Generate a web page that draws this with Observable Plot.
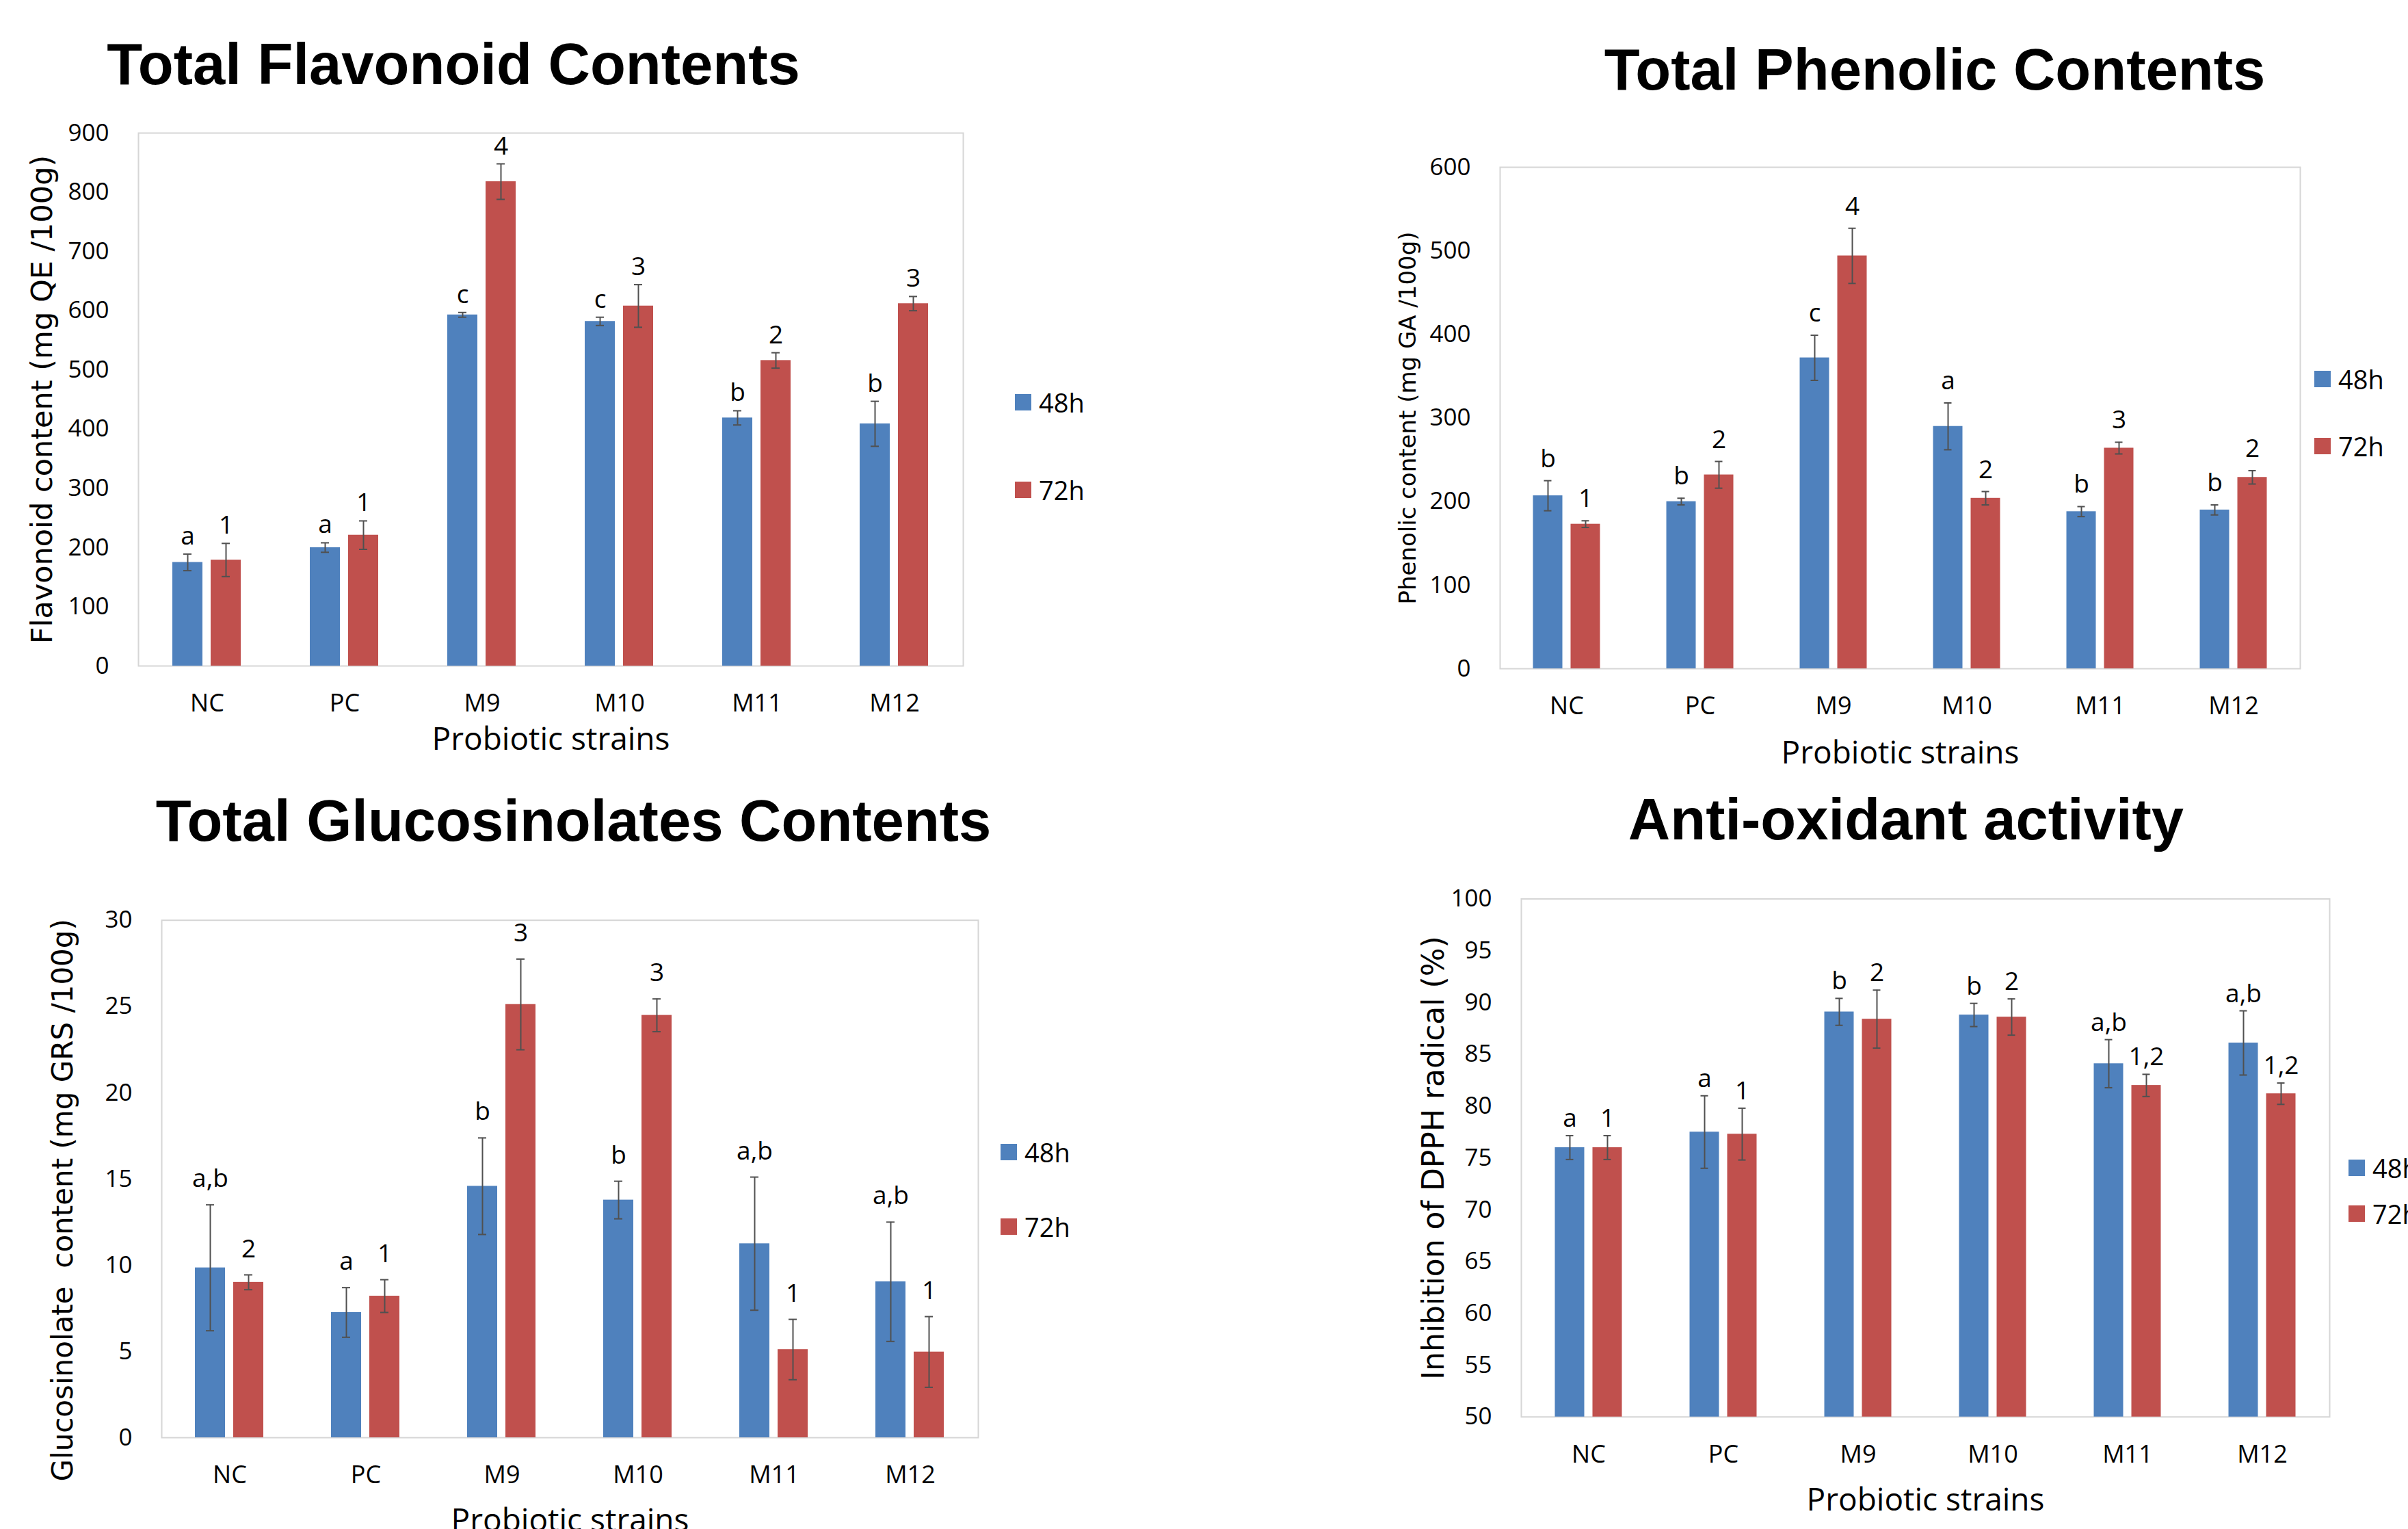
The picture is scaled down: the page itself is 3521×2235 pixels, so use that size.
<!DOCTYPE html>
<html><head><meta charset="utf-8">
<script src="https://cdn.jsdelivr.net/npm/d3@7"></script>
<script src="https://cdn.jsdelivr.net/npm/@observablehq/plot@0.6"></script>
<style>
html,body{margin:0;padding:0;background:#fff;}
#root{position:relative;width:3521px;height:2235px;overflow:hidden;background:#fff;}
.panel{position:absolute;}
.panel svg{max-width:none !important;display:block;overflow:visible;}
.title{position:absolute;width:2000px;text-align:center;font-family:"Liberation Sans",Arial,sans-serif;font-weight:bold;font-size:85px;line-height:85px;color:#000;white-space:nowrap;}
.item{position:absolute;height:60px;display:flex;align-items:center;white-space:nowrap;font-family:"Open Sans",sans-serif;font-size:38px;color:#000;}
.sw{width:24px;height:24px;margin-right:11px;flex:none;}
svg text{white-space:pre;}
</style></head><body><div id="root"></div>
<script>
const strains = ["NC","PC","M9","M10","M11","M12"];
const series = ["48h","72h"];
const seriesColors = ["#4F81BD","#C0504D"];
const xTitle = "Probiotic strains";

// Total Flavonoid Contents
const flavTitle = "Total Flavonoid Contents";
const flavYLabel = "Flavonoid content (mg QE /100g)";
const flav48 = [175,200,593,582,419,409];
const flav48Err = [14,8,4,7,12,38];
const flav72 = [179,221,818,608,516,612];
const flav72Err = [28,24,30,36,13,12];
const flav48Sig = ["a","a","c","c","b","b"];
const flav72Sig = ["1","1","4","3","2","3"];
const flavTicks = [0,100,200,300,400,500,600,700,800,900];

// Total Phenolic Contents
const phenTitle = "Total Phenolic Contents";
const phenYLabel = "Phenolic content (mg GA /100g)";
const phen48 = [207,200,372,290,188,190];
const phen48Err = [18,4,27,28,6,6];
const phen72 = [173,232,494,204,264,229];
const phen72Err = [4,16,33,8,7,8];
const phen48Sig = ["b","b","c","a","b","b"];
const phen72Sig = ["1","2","4","2","3","2"];
const phenTicks = [0,100,200,300,400,500,600];

// Total Glucosinolates Contents
const glucTitle = "Total Glucosinolates Contents";
const glucYLabel = "Glucosinolate  content (mg GRS /100g)";
const gluc48 = [9.85,7.26,14.58,13.78,11.25,9.04];
const gluc48Err = [3.65,1.44,2.8,1.09,3.86,3.46];
const gluc72 = [9.01,8.21,25.12,24.49,5.11,4.97];
const gluc72Err = [0.43,0.95,2.63,0.95,1.75,2.05];
const gluc48Sig = ["a,b","a","b","b","a,b","a,b"];
const gluc72Sig = ["2","1","3","3","1","1"];
const glucTicks = [0,5,10,15,20,25,30];

// Anti-oxidant activity
const antiTitle = "Anti-oxidant activity";
const antiYLabel = "Inhibition of DPPH radical (%)";
const anti48 = [76.0,77.5,89.1,88.8,84.1,86.1];
const anti48Err = [1.15,3.5,1.3,1.12,2.32,3.1];
const anti72 = [76.0,77.3,88.4,88.6,82.0,81.2];
const anti72Err = [1.15,2.5,2.8,1.75,1.07,1.03];
const anti48Sig = ["a","a","b","b","a,b","a,b"];
const anti72Sig = ["1","1","2","2","1,2","1,2"];
const antiTicks = [50,55,60,65,70,75,80,85,90,95,100];

const root = document.getElementById("root");

function makePanel(p) {
  const rows = [];
  strains.forEach((s, i) => {
    rows.push({strain: s, series: series[0], value: p.v48[i], err: p.e48[i], sig: p.s48[i]});
    rows.push({strain: s, series: series[1], value: p.v72[i], err: p.e72[i], sig: p.s72[i]});
  });
  const base = p.ticks[0];
  const errColor = "#505050";
  const chart = Plot.plot({
    width: p.width, height: p.height,
    marginLeft: p.ml, marginRight: p.mr, marginTop: p.mt, marginBottom: p.mb,
    style: {fontFamily: "'Open Sans', sans-serif", background: "white", overflow: "visible", color: "#000"},
    fx: {domain: strains, padding: 0, label: null},
    x: {domain: series, paddingInner: 0.21, paddingOuter: 0.87, axis: null},
    y: {domain: [p.ticks[0], p.ticks[p.ticks.length - 1]], axis: null},
    color: {domain: series, range: seriesColors},
    marks: [
      Plot.frame({facet: "super", stroke: "#d6d6d6", strokeWidth: 2}),
      Plot.barY(rows, {fx: "strain", x: "series", y1: base, y2: "value", fill: "series"}),
      Plot.ruleX(rows, {fx: "strain", x: "series", y1: d => d.value - d.err, y2: d => d.value + d.err, stroke: errColor, strokeWidth: 2}),
      Plot.tickY(rows, {fx: "strain", x: "series", y: d => d.value + d.err, stroke: errColor, strokeWidth: 2, insetLeft: 16, insetRight: 16}),
      Plot.tickY(rows, {fx: "strain", x: "series", y: d => d.value - d.err, stroke: errColor, strokeWidth: 2, insetLeft: 16, insetRight: 16}),
      Plot.text(rows, {fx: "strain", x: "series", y: d => d.value + d.err, text: "sig", lineAnchor: "bottom", dy: p.sigDy, fontSize: 37, fill: "#000"}),
      Plot.axisY({ticks: p.ticks, tickSize: 0, tickPadding: 43, fontSize: 35, label: null, tickFormat: d => String(d), fill: "#000"}),
      Plot.axisFx({anchor: "bottom", tickSize: 0, tickPadding: 41, fontSize: 36, label: null, fill: "#000"}),
      Plot.text([p.yLabel], {facet: "super", text: d => d, frameAnchor: "left", textAnchor: "middle", rotate: -90, dx: p.yDx, dy: p.yDy, lineAnchor: "middle", fontSize: p.ySize, fontFamily: "'DejaVu Sans', sans-serif", fill: "#000"}),
      Plot.text([xTitle], {facet: "super", text: d => d, frameAnchor: "bottom", textAnchor: "middle", dy: p.xDy, lineAnchor: "bottom", fontSize: 46, fill: "#000"})
    ]
  });
  const wrap = document.createElement("div");
  wrap.className = "panel";
  wrap.style.left = p.left + "px";
  wrap.style.top = p.top + "px";
  wrap.style.width = p.width + "px";
  wrap.style.height = p.height + "px";
  wrap.appendChild(chart);
  root.appendChild(wrap);

  const t = document.createElement("div");
  t.className = "title";
  t.textContent = p.title;
  t.style.left = (p.titleCx - 1000) + "px";
  t.style.top = (p.titleBase - 72) + "px";
  root.appendChild(t);

  series.forEach((s, i) => {
    const it = document.createElement("div");
    it.className = "item";
    it.style.left = p.legX + "px";
    it.style.top = (p.legY[i] - 30) + "px";
    const sw = document.createElement("div");
    sw.className = "sw";
    sw.style.background = seriesColors[i];
    it.appendChild(sw);
    const tx = document.createElement("span");
    tx.textContent = s;
    it.appendChild(tx);
    root.appendChild(it);
  });
}

makePanel({title: flavTitle, yLabel: flavYLabel, v48: flav48, e48: flav48Err, v72: flav72, e72: flav72Err, s48: flav48Sig, s72: flav72Sig, ticks: flavTicks,
  left: 0, top: 140, width: 1450, height: 980, ml: 201, mr: 41, mt: 54, mb: 147,
  sigDy: -14, yDx: -140, yDy: 0, ySize: 43, xDy: 122, titleCx: 663, titleBase: 123, legX: 1484, legY: [588, 716]});

makePanel({title: phenTitle, yLabel: phenYLabel, v48: phen48, e48: phen48Err, v72: phen72, e72: phen72Err, s48: phen48Sig, s72: phen72Sig, ticks: phenTicks,
  left: 1980, top: 180, width: 1400, height: 960, ml: 210.5, mr: 15, mt: 64, mb: 163,
  sigDy: -20, yDx: -134.5, yDy: 0, ySize: 34, xDy: 138, titleCx: 2829, titleBase: 130.5, legX: 3384, legY: [554, 652]});

makePanel({title: glucTitle, yLabel: glucYLabel, v48: gluc48, e48: gluc48Err, v72: gluc72, e72: gluc72Err, s48: gluc48Sig, s72: gluc72Sig, ticks: glucTicks,
  left: 0, top: 1280, width: 1450, height: 955, ml: 234, mr: 18, mt: 64.7, mb: 134,
  sigDy: -26, yDx: -144, yDy: 31, ySize: 42, xDy: 136, titleCx: 838.6, titleBase: 1229, legX: 1463, legY: [1683.5, 1792.5]});

makePanel({title: antiTitle, yLabel: antiYLabel, v48: anti48, e48: anti48Err, v72: anti72, e72: anti72Err, s48: anti48Sig, s72: anti72Sig, ticks: antiTicks,
  left: 1980, top: 1250, width: 1430, height: 985, ml: 241.5, mr: 1, mt: 63.5, mb: 164.3,
  sigDy: -13, yDx: -127.5, yDy: 0, ySize: 44, xDy: 137, titleCx: 2787, titleBase: 1226.7, legX: 3434, legY: [1707, 1774]});
</script>
</body></html>
